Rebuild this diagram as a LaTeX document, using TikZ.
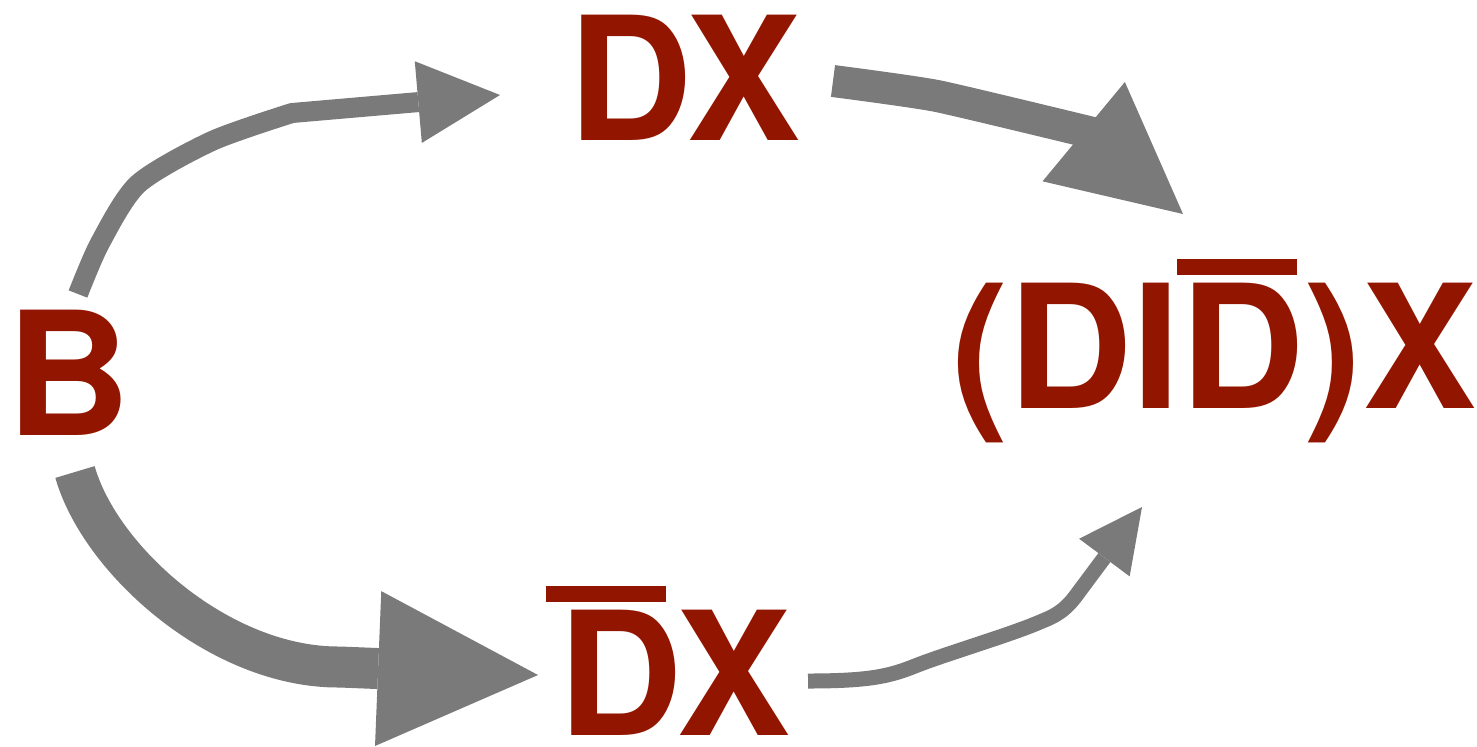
\documentclass[tikz,border=0pt]{standalone}
\usepackage{fontspec}
\setmainfont{TeX Gyre Heros}
\usetikzlibrary{arrows.meta}
\definecolor{lbl}{HTML}{921500}
\definecolor{arr}{HTML}{7A7A7A}
\newcommand\Dbar[1]{\rlap{\kern#1\rule[66.5pt]{60pt}{8pt}}D}
\tikzset{
  lab/.style={inner sep=0pt, outer sep=0pt, anchor=base, text=lbl,
    font=\fontsize{86pt}{86pt}\selectfont\bfseries},
  conn/.style={draw=arr, line cap=butt, line join=round},
}
\begin{document}
\begin{tikzpicture}[x=0.5pt,y=-0.5pt]
\useasboundingbox (0,0) rectangle (1477,746);
\node[lab] (dx) at (685,140) {DX};
\node[lab] (b) at (69,435) {B};
\node[lab] (dbx) at (675,735) {\Dbar{-6.5pt}X};
\node[lab] (mix) at (1214,408) {(DI\Dbar{-1.7pt})X};
% connector end points
\coordinate (b-up) at (78,294);
\coordinate (dx-in) at (500,95);
\coordinate (dx-out) at (833,81);
\coordinate (mix-top) at (1183,214);
\coordinate (b-down) at (75,472);
\coordinate (dbx-in) at (538,675);
\coordinate (dbx-out) at (808,681);
\coordinate (mix-bot) at (1142,507);
% B -> DX
\draw[conn, line width=10pt, -{Triangle[length=41pt,width=41pt,line width=0pt]}]
  plot[smooth, tension=0.45] coordinates {(b-up) (100,243) (138,184) (212,141) (292,113)}
  -- (dx-in);
% DX -> (DIDbar)X
\draw[conn, line width=16pt, -{Triangle[length=64.5pt,width=64.5pt,line width=0pt]}]
  plot[smooth, tension=0.3] coordinates {(dx-out) (937,96) (1097,134)}
  (1083.5,131.5) -- (mix-top);
% B -> DbarX
\draw[conn, line width=20.5pt, -{Triangle[length=80pt,width=77.5pt,line width=0pt]}]
  (b-down) .. controls (100,560) and (220,668) .. (340,667) -- (dbx-in);
% DbarX -> (DIDbar)X
\draw[conn, line width=7.5pt, -{Triangle[length=31.5pt,width=31.5pt,line width=0pt]}]
  (dbx-out) .. controls (870,681) and (890,676) .. (915,666)
  .. controls (945,654) and (1010,635) .. (1040,622)
  .. controls (1050,617.7) and (1062,614) .. (1075,597) -- (mix-bot);
\end{tikzpicture}
\end{document}
